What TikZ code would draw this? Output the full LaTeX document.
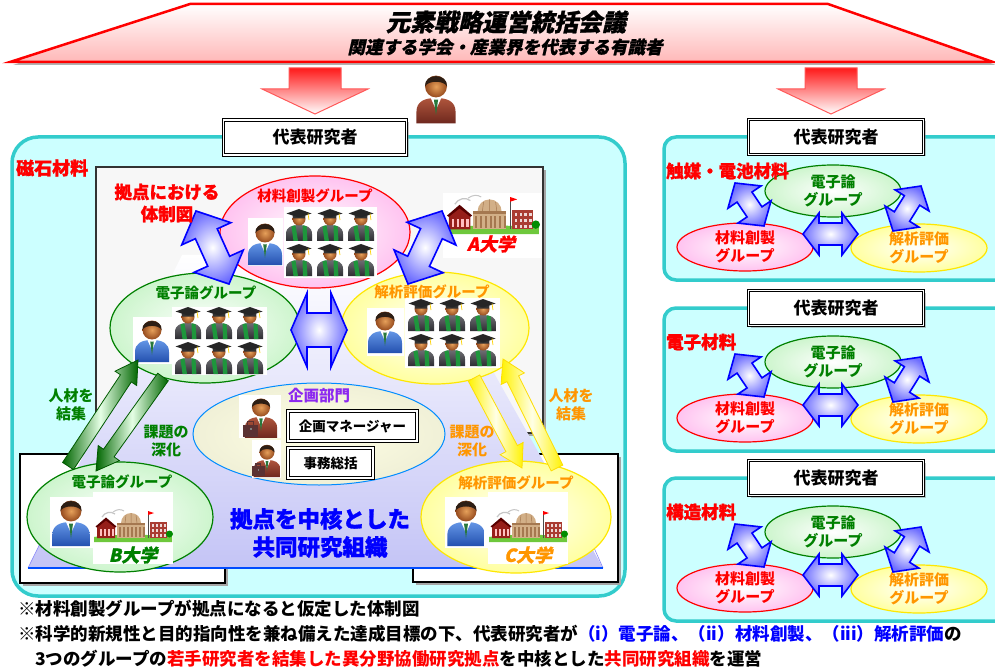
\documentclass[tikz,border=0pt]{standalone}
\usepackage{fontspec}
\setmainfont{Noto Sans CJK JP}
\newfontfamily\jpsl{Noto Sans CJK JP}[FakeSlant=0.22,FakeBold=1]
\newfontfamily\jphv{Noto Sans CJK JP}[FakeBold=1.2]
\usetikzlibrary{shapes.geometric,calc,shadows}

\definecolor{panelc}{RGB}{51,204,204}
\definecolor{panelf}{RGB}{204,255,255}
\definecolor{lav}{RGB}{196,196,246}
\definecolor{arrblue}{RGB}{110,110,255}
\definecolor{pinkf}{RGB}{255,195,240}
\definecolor{greenf}{RGB}{205,245,205}
\definecolor{yellowf}{RGB}{255,255,160}
\definecolor{orangec}{RGB}{255,150,0}
\definecolor{greenc}{RGB}{0,128,0}
\definecolor{purplec}{RGB}{140,40,240}
\definecolor{suitblue}{RGB}{35,80,175}
\definecolor{suitbluel}{RGB}{100,150,230}
\definecolor{suitbrown}{RGB}{110,40,30}
\definecolor{suitbrownl}{RGB}{175,85,60}
\definecolor{skinl}{RGB}{230,160,90}
\definecolor{skind}{RGB}{150,75,30}
\definecolor{hairc}{RGB}{45,30,20}
\definecolor{tiec}{RGB}{40,120,60}
\definecolor{gownl}{RGB}{110,110,115}
\definecolor{gownd}{RGB}{45,45,50}
\definecolor{stole}{RGB}{30,150,60}
\definecolor{beige}{RGB}{210,175,135}
\definecolor{beiged}{RGB}{165,120,80}
\definecolor{brick}{RGB}{170,60,50}
\definecolor{redbld}{RGB}{150,30,25}
\definecolor{lawn}{RGB}{110,200,60}
\definecolor{casec}{RGB}{90,50,50}

% person in a suit; #1 dark and #2 light suit colour
\newcommand\drawperson[2]{%
  \shade[top color=#2, bottom color=#1] (-17,22) -- (-17,12) .. controls (-17,3) and (-10,0) .. (0,0) .. controls (10,0) and (17,3) .. (17,12) -- (17,22) -- cycle;
  \fill[white] (-4.5,0.2) -- (0,10) -- (4.5,0.2) -- cycle;
  \fill[tiec] (-1.8,1.5) -- (0,15) -- (1.8,1.5) -- cycle;
  \shade[inner color=skinl, outer color=skind] (0,-10) circle (9.5);
  \fill[hairc] (-9.6,-10) .. controls (-10.5,-22) and (10.5,-22) .. (9.6,-10) .. controls (7,-15.5) and (-7,-15.5) .. (-9.6,-10) -- cycle;
}
% graduate with mortarboard and green stole
\newcommand\drawgrad{%
  \shade[top color=gownl, bottom color=gownd] (-13,16) -- (-13,9) .. controls (-13,2) and (-7,0) .. (0,0) .. controls (7,0) and (13,2) .. (13,9) -- (13,16) -- cycle;
  \fill[stole] (-7.5,1.2) -- (-3.5,0.3) -- (-1,16) -- (-5.5,16) -- cycle;
  \fill[stole] (7.5,1.2) -- (3.5,0.3) -- (4,16) -- (8.5,16) -- cycle;
  \shade[inner color=skinl, outer color=skind] (0,-6) circle (6.5);
  \fill[black!80] (-6.5,-10.5) -- (6.5,-10.5) -- (6,-6.5) -- (-6,-6.5) -- cycle;
  \fill[black!85] (-12.5,-11.5) -- (0,-16) -- (12.5,-11.5) -- (0,-7.5) -- cycle;
  \draw[yellow!70!orange, line width=0.7pt] (9,-11.5) -- (10,-5);
}
% university campus
\newcommand\drawcampus{%
  \draw[gray!45, line width=1.2pt] (-31,-9) .. controls (-28,-14) and (-22,-15) .. (-18,-12);
  \draw[gray!45, line width=1pt] (-20,-14) .. controls (-16,-17) and (-12,-17) .. (-9,-15);
  \fill[lawn] (-39,11) .. controls (-20,8) and (20,8) .. (39,11) -- (39,16) -- (-39,16) -- cycle;
  \fill[redbld] (-36,12) -- (-36,0) -- (-27,-7) -- (-18,0) -- (-18,12) -- cycle;
  \fill[red!35!black] (-37.5,0.5) -- (-27,-8.5) -- (-16.5,0.5) -- (-18,1.5) -- (-27,-5.5) -- (-36,1.5) -- cycle;
  \foreach \wx in {-33.5,-29.5,-25.5,-21.5} \fill[white!75!red] (\wx,3) rectangle +(2,7);
  \fill[beige] (-16,12) rectangle (12,-3);
  \fill[beige] (-12,-3) arc[start angle=180, end angle=360, x radius=10, y radius=10];
  \draw[beiged, line width=0.5pt] (-2,-13) -- (-2,-3) (-7,-11) -- (-8,-3) (3,-11) -- (4,-3);
  \fill[beiged] (-16,-3) rectangle (12,-1);
  \foreach \wx in {-14,-10,...,10} \fill[beiged] (\wx,1) rectangle +(1.6,10);
  \draw[gray!60!black, line width=0.7pt] (15,12) -- (15,-15);
  \fill[red] (15,-15) -- (21,-13) -- (15,-11) -- cycle;
  \fill[brick] (17,12) rectangle (34,-4);
  \foreach \wx in {19,23,27,31} \foreach \wy in {-2,3,8} \fill[white!80!brick] (\wx,\wy) rectangle +(2.2,3);
  \fill[green!55!black] (36.5,8) circle (3.5);
}
% double block arrow between two tips
\newcommand\dblarr[6]{%
  \path[#6] (#1)
    -- ($(#1)!#5!(#2)!#4!90:(#2)$)
    -- ($(#1)!#5!(#2)!#3!90:(#2)$)
    -- ($(#2)!#5!(#1)!#3!-90:(#1)$)
    -- ($(#2)!#5!(#1)!#4!-90:(#1)$)
    -- (#2)
    -- ($(#2)!#5!(#1)!#4!90:(#1)$)
    -- ($(#2)!#5!(#1)!#3!90:(#1)$)
    -- ($(#1)!#5!(#2)!#3!-90:(#2)$)
    -- ($(#1)!#5!(#2)!#4!-90:(#2)$)
    -- cycle;}
% single block arrow from tail to tip
\newcommand\sglarr[6]{%
  \path[#6] ($(#1)!#3!90:(#2)$)
    -- ($(#2)!#5!(#1)!#3!-90:(#1)$)
    -- ($(#2)!#5!(#1)!#4!-90:(#1)$)
    -- (#2)
    -- ($(#2)!#5!(#1)!#4!90:(#1)$)
    -- ($(#2)!#5!(#1)!#3!90:(#1)$)
    -- ($(#1)!#3!-90:(#2)$) -- cycle;}

\tikzset{
  bizblue/.pic={\drawperson{suitblue}{suitbluel}},
  bizbrown/.pic={\drawperson{suitbrown}{suitbrownl}},
  bizcase/.pic={\drawperson{suitbrown}{suitbrownl}
    \fill[casec] (-19,8) rectangle (-3,21);
    \draw[casec, line width=1.3pt] (-14,8) -- (-14,5) -- (-8,5) -- (-8,8);
    \fill[black!50] (-12,12) rectangle (-10,14);},
  grad/.pic={\drawgrad},
  campus/.pic={\drawcampus},
}

\begin{document}
\begin{tikzpicture}[x=1pt, y=-1pt,
  txt/.style args={#1/#2/#3}{font=\bfseries\fontsize{#1}{#2}\selectfont, text=#3, align=center, inner sep=0pt},
  hvtxt/.style args={#1/#2/#3}{font=\jphv\bfseries\fontsize{#1}{#2}\selectfont, text=#3, align=center, inner sep=0pt},
  sltxt/.style args={#1/#2}{font=\jpsl\bfseries\fontsize{#1}{#1}\selectfont, text=#2, inner sep=0pt},
  grpell/.style={ellipse, line width=1.2pt, inner sep=0pt},
  repbox/.style={draw=black, line width=0.9pt, double=white, double distance=1.6pt, fill=white,
    drop shadow={shadow xshift=2pt, shadow yshift=-2pt, fill=black!45},
    inner sep=0pt},
  panel/.style={draw=panelc, line width=3.5pt, fill=panelf},
  barr/.style={draw=blue, line width=1.6pt, inner color=white, outer color=arrblue},
  garr/.style={draw=green!35!black, line width=0.8pt, left color=green!40!black, right color=green!40!black, middle color=green!10},
  yarr/.style={draw=yellow!80!orange, line width=0.8pt, left color=yellow!90!orange, right color=yellow!90!orange, middle color=yellow!10},
  rarr/.style={draw=red!65, line width=1pt, top color=red!90, bottom color=white},
  icbg/.style={fill=white},
]
\useasboundingbox (0,0) rectangle (995,668);

% ---------- steering council ----------
\fill[black!30] (13,65) -- (192,7) -- (830,7) -- (996,65) -- cycle;
\draw[red, line width=2.5pt, top color=white, bottom color=red!28] (10,62) -- (190,4) -- (828,4) -- (993,62) -- cycle;
\node[sltxt=24/black] (title) at (506,22) {元素戦略運営統括会議};
\node[sltxt=17.5/black] (subtitle) at (505,47) {関連する学会・産業界を代表する有識者};

% red downward arrows
\foreach \cx in {315,831}{
  \path[rarr] (\cx-26,68) -- (\cx+26,68) -- (\cx+26,89) -- (\cx+53,89) -- (\cx,114) -- (\cx-53,89) -- (\cx-26,89) -- cycle;
}
\pic[scale=1.15] at (436,98) {bizbrown};

% ---------- left panel: magnet materials ----------
\draw[panel, rounded corners=26pt] (12,137) rectangle (625,596);
\fill[black!35] (99,170) rectangle (546,436);
\draw[black!80, line width=1.2pt, fill=black!3] (96,167) rectangle (543,433);
\fill[black!35] (23,457) rectangle (228,586);
\draw[black, line width=1.2pt, fill=white] (20,454) rectangle (225,583);
\fill[black!35] (416,457) rectangle (621,585);
\draw[black, line width=1.2pt, fill=white] (413,454) rectangle (618,582);

% lavender platform of the joint organisation
\shade[top color=white, bottom color=lav] (28,568) -- (182,255) -- (428,255) -- (603,568) -- cycle;
\draw[lav!70!blue, line width=0.6pt] (28,568) -- (60,503) (603,568) -- (575,505);
\draw[blue!70!cyan, line width=1.5pt] (28,568) -- (603,568);

% group ellipses
\node[grpell, draw=red, inner color=white, outer color=pinkf, minimum width=190, minimum height=112] (zairyo) at (315,232) {};
\node[grpell, draw=greenc, inner color=white, outer color=greenf, minimum width=190, minimum height=110] (denshi) at (205,328) {};
\node[grpell, draw=yellow!90!orange, inner color=white, outer color=yellowf, minimum width=188, minimum height=112] (kaiseki) at (435,328) {};
\node[grpell, draw=blue!45!cyan, line width=1pt, inner color={rgb,255:red,255;green,255;blue,228}, outer color={rgb,255:red,240;green,240;blue,215}, minimum width=252, minimum height=102] (kikaku) at (319,434) {};
\node[grpell, draw=greenc, inner color=white, outer color=greenf, minimum width=186, minimum height=110] (denshiB) at (120,517) {};
\node[grpell, draw=yellow!90!orange, inner color=white, outer color=yellowf, minimum width=190, minimum height=112] (kaisekiC) at (516,517) {};

% icons: materials-synthesis group
\fill[icbg] (248,218) rectangle (283,266);
\pic at (265,243) {bizblue};
\fill[icbg] (284,207) rectangle (377,278);
\foreach \gx in {299,330,361} \foreach \gy in {225,260} \pic at (\gx,\gy) {grad};
% electronic-theory group
\fill[icbg] (133,317) rectangle (172,364);
\pic at (152,340) {bizblue};
\fill[icbg] (172,307) rectangle (267,375);
\foreach \gx in {188,219,250} \foreach \gy in {323,358} \pic at (\gx,\gy) {grad};
% analysis group
\fill[icbg] (367,308) rectangle (404,356);
\pic at (385,331) {bizblue};
\fill[icbg] (405,298) rectangle (500,368);
\foreach \gx in {421,452,483} \foreach \gy in {315,350} \pic at (\gx,\gy) {grad};
% planning office
\fill[icbg] (239,395) rectangle (281,438);
\pic[scale=0.95] at (261,417) {bizcase};
\fill[icbg] (252,440) rectangle (281,478);
\pic[scale=0.78] at (267,460) {bizcase};
% universities
\fill[icbg] (443,193) rectangle (542,258);
\pic[scale=1.2] at (492,215) {campus};
\fill[icbg] (50,497) rectangle (93,548);
\pic[scale=1.1] at (71,522) {bizblue};
\fill[icbg] (93,492) rectangle (173,564);
\pic at (133,526) {campus};
\fill[icbg] (445,497) rectangle (488,548);
\pic[scale=1.1] at (466,522) {bizblue};
\fill[icbg] (488,492) rectangle (568,564);
\pic at (528,526) {campus};

% blue double arrows between groups
\coordinate (hA) at (291,330); \coordinate (hB) at (347,330);
\dblarr{hA}{hB}{17pt}{37pt}{16pt}{barr}
\coordinate (tA) at (196,211); \coordinate (tB) at (229,284);
\dblarr{tA}{tB}{12pt}{27pt}{25pt}{barr}
\coordinate (uA) at (442,211); \coordinate (uB) at (408,284);
\dblarr{uA}{uB}{12pt}{27pt}{25pt}{barr}

% green and yellow arrows to the partner universities
\coordinate (g1t) at (68,466); \coordinate (g1h) at (138,360);
\sglarr{g1t}{g1h}{6.5pt}{13pt}{22pt}{garr}
\coordinate (g2t) at (163,377); \coordinate (g2h) at (96,471);
\sglarr{g2t}{g2h}{6.5pt}{13pt}{22pt}{garr}
\coordinate (y1t) at (474,378); \coordinate (y1h) at (522,468);
\sglarr{y1t}{y1h}{6.5pt}{13pt}{22pt}{yarr}
\coordinate (y2t) at (557,468); \coordinate (y2h) at (503,359);
\sglarr{y2t}{y2h}{6.5pt}{13pt}{22pt}{yarr}

% labels
\node[hvtxt=18/18/red, anchor=west] (magnet) at (16,168) {磁石材料};
\node[hvtxt=17.5/22/red] (taisei) at (167,203) {拠点における\\体制図};
\node[sltxt=18/red] (univA) at (491,244) {A大学};
\node[txt=14.5/14.5/red] (zairyoL) at (315,196) {材料創製グループ};
\node[txt=14.5/14.5/greenc] (denshiL) at (206,293) {電子論グループ};
\node[txt=14.5/14.5/orangec] (kaisekiL) at (432,292) {解析評価グループ};
\node[txt=15.5/15.5/purplec] (kikakuL) at (319,396) {企画部門};
\node[repbox, minimum width=129, minimum height=30, txt=13.5/13.5/black] (manager) at (352.5,426) {企画マネージャー};
\node[repbox, minimum width=85, minimum height=30, txt=13.5/13.5/black] (jimu) at (330.5,463) {事務総括};
\node[txt=15/18/greenc] (jinzaiG) at (71,405) {人材を\\結集};
\node[txt=15/18/greenc] (kadaiG) at (166,441) {課題の\\深化};
\node[txt=15/18/orangec] (kadaiY) at (472,441) {課題の\\深化};
\node[txt=15/18/orangec] (jinzaiY) at (571,405) {人材を\\結集};
\node[txt=14.5/14.5/greenc] (denshiBL) at (122,482) {電子論グループ};
\node[txt=14.5/14.5/orangec] (kaisekiCL) at (516,483) {解析評価グループ};
\node[sltxt=18/greenc] (univB) at (133,555) {B大学};
\node[sltxt=18/orangec] (univC) at (528,555) {C大学};
\node[hvtxt=22.5/28/blue] (core) at (320,533) {拠点を中核とした\\共同研究組織};
\node[repbox, minimum width=183, minimum height=35, txt=17/17/black] (repL) at (315,137.5) {代表研究者};

% ---------- right panels: other material fields ----------
\foreach \dy/\ttl/\nm in {0/触媒・電池材料/a,171/電子材料/b,341/構造材料/c}{
  \begin{scope}[yshift=-\dy pt]
    \draw[panel, rounded corners=12pt] (664,137) rectangle (1012,280);
    \node[repbox, minimum width=175, minimum height=35, txt=17/17/black] (rep\nm) at (836,137) {代表研究者};
    \node[grpell, draw=greenc, inner color=white, outer color=greenf, minimum width=136, minimum height=52, txt=15/18/greenc] (ron\nm) at (833,191) {電子論\\グループ};
    \node[grpell, draw=red, inner color=white, outer color=pinkf, minimum width=136, minimum height=48, txt=15/18/red] (zai\nm) at (745,247) {材料創製\\グループ};
    \node[grpell, draw=yellow!90!orange, inner color=white, outer color=yellowf, minimum width=136, minimum height=48, txt=15/18/orangec] (kai\nm) at (919,248) {解析評価\\グループ};
    \node[hvtxt=17.5/17.5/red, anchor=west] (field\nm) at (666,171) {\ttl};
    \coordinate (la\nm) at (735,183); \coordinate (lb\nm) at (764,226);
    \dblarr{la\nm}{lb\nm}{9pt}{20pt}{17pt}{barr}
    \coordinate (ra\nm) at (921,186); \coordinate (rb\nm) at (893,231);
    \dblarr{ra\nm}{rb\nm}{9pt}{20pt}{17pt}{barr}
    \coordinate (ha\nm) at (803,234); \coordinate (hb\nm) at (858,234);
    \dblarr{ha\nm}{hb\nm}{11pt}{21pt}{16pt}{barr}
  \end{scope}
}

% ---------- notes ----------
\node[txt=17.5/17.5/black, anchor=west] (note1) at (18,609) {※材料創製グループが拠点になると仮定した体制図};
\node[txt=17.5/17.5/black, anchor=west] (note2) at (18,634) {※科学的新規性と目的指向性を兼ね備えた達成目標の下、代表研究者が\textcolor{blue}{（i）電子論、（ii）材料創製、（iii）解析評価}の};
\node[txt=17.5/17.5/black, anchor=west] (note3) at (35,659) {3つのグループの\textcolor{red}{若手研究者を結集した異分野協働研究拠点}を中核とした\textcolor{red}{共同研究組織}を運営};
\end{tikzpicture}
\end{document}
